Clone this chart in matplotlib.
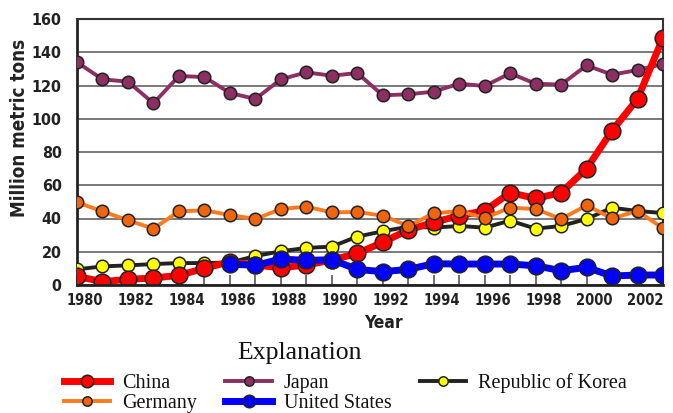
import numpy as np
import matplotlib
matplotlib.use("Agg")
import matplotlib.pyplot as plt
import matplotlib.transforms as mtransforms

years = list(range(1980, 2004))
china = [5.2, 2.0, 3.4, 4.2, 5.8, 10.0, 14.0, 12.0, 10.4, 12.0, 15.0, 19.0, 25.7, 33.1,
         37.7, 41.7, 44.7, 55.5, 52.1, 55.5, 70.0, 92.8, 111.9, 148.8]
germany = [49.7, 44.3, 38.9, 33.9, 44.3, 44.9, 42.1, 39.7, 45.7, 47.1, 43.7, 43.9, 41.7, 35.5,
           43.1, 44.5, 40.3, 46.5, 45.7, 39.7, 47.9, 40.1, 44.5, 34.1]
japan = [134.0, 123.7, 122.3, 109.3, 125.7, 125.1, 115.5, 111.9, 123.7, 127.9, 125.9, 127.5,
         114.1, 114.7, 116.3, 121.1, 119.7, 127.3, 121.1, 120.5, 132.1, 126.5, 129.3, 132.9]
usa = [np.nan] * 6 + [12.6, 11.8, 15.6, 14.8, 15.2, 9.4, 8.0, 9.4, 12.8, 12.6, 12.6, 12.6,
                      11.6, 8.6, 10.6, 5.4, 6.0, 6.0]
korea = [9.4, 11.2, 11.8, 12.6, 13.2, 13.2, 13.5, 17.4, 20.3, 22.3, 23.1, 29.1, 32.3, 35.1,
         34.5, 35.5, 34.5, 38.7, 33.9, 35.5, 39.7, 46.5, 44.5, 43.3]
yticks = [0, 20, 40, 60, 80, 100, 120, 140, 160]
xlabels_years = list(range(1980, 2004, 2))

cond = ['DejaVu Sans']
serif = ['Liberation Serif', 'DejaVu Serif']

fig = plt.figure(figsize=(6.73, 4.13), dpi=100)
ax = fig.add_axes([77/673, 1-285/413, (663-77)/673, (285-19)/413])

ax.set_xlim(1980, 2003)
ax.set_ylim(0, 160)
ax.set_yticks(yticks)
ax.yaxis.grid(True, color='#6e6e6e', linewidth=1.3)
ax.set_axisbelow(True)

ax.plot(years, japan, color='#8e2f63', lw=2.8, marker='o', ms=9, mfc='#8e2f63',
        mec='#222222', mew=1.1, label='Japan', zorder=3)
ax.plot(years, korea, color='#222222', lw=2.8, marker='o', ms=9, mfc='#ffff00',
        mec='#222222', mew=1.1, label='Republic of Korea', zorder=4)
ax.plot(years, china, color='#ff0000', lw=5, marker='o', ms=12, mfc='#ff0000',
        mec='#222222', mew=1.1, label='China', zorder=5)
ax.plot(years, usa, color='#0000ff', lw=5, marker='o', ms=12, mfc='#0000ff',
        mec='#222222', mew=1.1, label='United States', zorder=6)
ax.plot(years, germany, color='#ff7a1a', lw=2.8, marker='o', ms=9, mfc='#f0650c',
        mec='#222222', mew=1.1, label='Germany', zorder=7)

for s in ['left', 'bottom']:
    ax.spines[s].set_linewidth(2)
    ax.spines[s].set_color('#222222')
for s in ['top', 'right']:
    ax.spines[s].set_linewidth(1.5)
    ax.spines[s].set_color('#333333')
ax.spines['bottom'].set_zorder(10)

ax.set_xticks(years, minor=True)
ax.set_xticks(xlabels_years)
ax.set_xticklabels([str(y) for y in xlabels_years])
ax.tick_params(axis='x', which='both', direction='in', length=7, width=1.2, color='#555555',
               pad=6)
ax.tick_params(axis='y', length=0, pad=11)
offset = mtransforms.ScaledTranslation(8/100, 0, fig.dpi_scale_trans)
for lbl in ax.get_xticklabels():
    lbl.set_transform(lbl.get_transform() + offset)
    lbl.set_family(cond)
    lbl.set_fontweight('bold')
    lbl.set_fontstretch('condensed')
    lbl.set_fontsize(10.5)
    lbl.set_color('#222222')
for lbl in ax.get_yticklabels():
    lbl.set_family(cond)
    lbl.set_fontweight('bold')
    lbl.set_fontstretch('condensed')
    lbl.set_fontsize(11.5)
    lbl.set_color('#222222')

ax.set_xlabel('Year', family=cond, fontweight='bold', fontstretch='condensed', fontsize=12.5,
              color='#222222', labelpad=4)
ax.xaxis.label.set_x((383-77)/586)
ax.set_ylabel('Million metric tons', family=cond, fontweight='bold', fontstretch='condensed',
              fontsize=13.5, color='#222222')
ax.yaxis.set_label_coords((20-77)/586, (285-128)/266)
ax.yaxis.label.set_va('center')

fig.text(300/673, 1-353/413, 'Explanation', family=serif, fontsize=18.5, color='#111111',
         ha='center', va='center')

handles, labels = ax.get_legend_handles_labels()
hmap = dict(zip(labels, handles))
order = ['China', 'Germany', 'Japan', 'United States', 'Republic of Korea']
leg = fig.legend([hmap[o] for o in order], order, ncol=3, loc='center left',
                 bbox_to_anchor=(64/673, 1-393/413), frameon=False,
                 prop={'family': serif, 'size': 14.5}, handlelength=2.3, columnspacing=1.4,
                 handletextpad=0.6, labelspacing=0.05, markerscale=0.75, borderpad=0.0,
                 borderaxespad=0.0)
for t in leg.get_texts():
    t.set_color('#111111')

fig.savefig('out.png', dpi=100)
